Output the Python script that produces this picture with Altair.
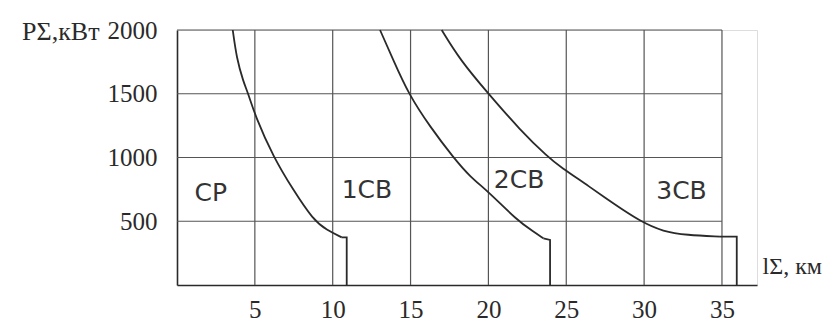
import altair as alt
import pandas as pd

# Curves: length l (km) vs power P (kW)
cp_km = [3.58, 3.83, 4.26, 4.58, 5.0, 6.2, 7.47, 8.75, 9.61, 10.58]
cp_p = [2000, 1778, 1594, 1500, 1333, 1000, 745, 510, 431, 374]
cp_drop_km = [10.58, 10.9, 10.9]
cp_drop_p = [374, 374, 0]

cb1_km = [13.04, 13.89, 14.86, 16.25, 17.75, 18.82, 20.0, 21.82, 22.89, 23.53]
cb1_p = [2000, 1765, 1500, 1241, 1000, 849, 732, 510, 418, 366]
cb1_drop_km = [23.53, 23.96, 23.96]
cb1_drop_p = [366, 353, 0]

cb2_km = [17.0, 18.18, 20.0, 22.03, 23.85, 24.6, 26.5, 28.0, 29.74, 31.24, 32.73, 34.87]
cb2_p = [2000, 1765, 1500, 1216, 1000, 928, 771, 641, 500, 418, 392, 379]
cb2_drop_km = [34.87, 35.95, 35.95]
cb2_drop_p = [379, 379, 0]

label_text = ["CP", "1CB", "2CB", "3CB"]
label_km = [2.17, 12.2, 21.97, 32.4]
label_p = [722, 745, 824, 737]

x_ticks = [5, 10, 15, 20, 25, 30, 35]
y_ticks = [500, 1000, 1500, 2000]


def table(parts):
    rows = []
    for name, xs_, ys_ in parts:
        for i, (a, b) in enumerate(zip(xs_, ys_)):
            rows.append({"curve": name, "i": i, "l": a, "P": b})
    return pd.DataFrame(rows)


curves = table([("CP", cp_km, cp_p), ("1CB", cb1_km, cb1_p), ("2CB", cb2_km, cb2_p)])
drops = table([("CP", cp_drop_km, cp_drop_p), ("1CB", cb1_drop_km, cb1_drop_p),
               ("2CB", cb2_drop_km, cb2_drop_p)])
labels = pd.DataFrame({"t": label_text, "l": label_km, "P": label_p})
vgrid = pd.DataFrame({"l": x_ticks})
hgrid = pd.DataFrame({"P": y_ticks})

X_MAX = 37.25
xs = alt.Scale(domain=[0, X_MAX], nice=False, zero=False)
ys = alt.Scale(domain=[0, 2000], nice=False)

GRID = "#555555"
INK = "#2a2a2a"

x_axis = alt.Axis(values=x_ticks, grid=False, ticks=False, labelPadding=12, format="d",
                  labelFont="Liberation Serif", labelFontSize=25, labelColor=INK,
                  domainColor=INK, domainWidth=1.6,
                  title="lΣ, км", titleFont="Liberation Serif", titleFontSize=24,
                  titleFontWeight="normal", titleColor=INK, titleAnchor="start",
                  titleAlign="left", titleBaseline="alphabetic", titleX=585, titleY=-12)
y_axis = alt.Axis(values=y_ticks, grid=False, ticks=False, labelPadding=20, format="d",
                  labelFont="Liberation Serif", labelFontSize=25, labelColor=INK,
                  domainColor=INK, domainWidth=1.6,
                  title="PΣ,кВт", titleFont="Liberation Serif", titleFontSize=26,
                  titleFontWeight="normal", titleColor=INK, titleAngle=0,
                  titleAlign="right", titleBaseline="middle", titleX=-78, titleY=1)

base_axes = alt.Chart(hgrid).mark_rule(color=GRID, strokeWidth=1.2).encode(
    y=alt.Y("P:Q", scale=ys, axis=y_axis),
    x=alt.datum(0, scale=xs, axis=x_axis, type="quantitative"),
    x2=alt.datum(35),
)

vlines = alt.Chart(vgrid).mark_rule(color=GRID, strokeWidth=1.2).encode(
    x=alt.X("l:Q", scale=xs),
)

lines = alt.Chart(curves).mark_line(color=INK, strokeWidth=1.8, interpolate="basis").encode(
    x=alt.X("l:Q", scale=xs),
    y=alt.Y("P:Q", scale=ys),
    detail="curve:N",
    order="i:Q",
)

drop_lines = alt.Chart(drops).mark_line(color=INK, strokeWidth=1.8).encode(
    x=alt.X("l:Q", scale=xs),
    y=alt.Y("P:Q", scale=ys),
    detail="curve:N",
    order="i:Q",
)

texts = alt.Chart(labels).mark_text(font="DejaVu Sans", fontSize=25, color="#333333",
                                    align="center", baseline="middle").encode(
    x=alt.X("l:Q", scale=xs),
    y=alt.Y("P:Q", scale=ys),
    text="t:N",
)

chart = alt.layer(base_axes, vlines, lines, drop_lines, texts).properties(
    width=580, height=255,
    autosize=alt.AutoSizeParams(type="none"),
    padding={"left": 169, "top": 22, "right": 70, "bottom": 38},
).configure_view(stroke=None).configure(background="white")

chart.save("out.html", embed_options={"renderer": "svg", "actions": False})
